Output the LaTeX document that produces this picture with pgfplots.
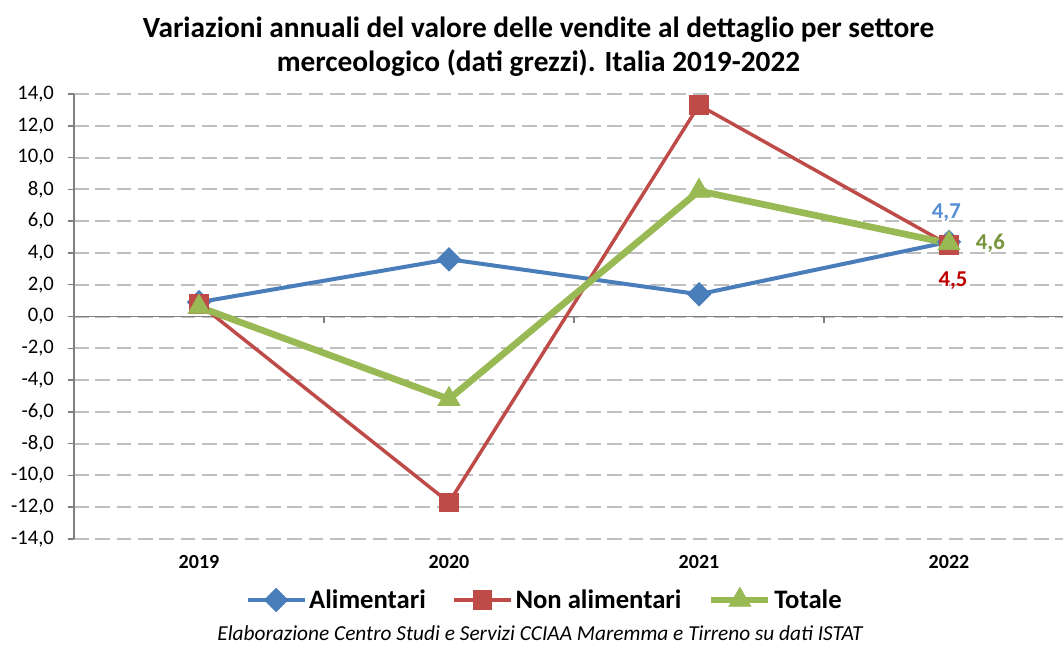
\documentclass[border=0pt]{standalone}
\usepackage{fontspec}
\setmainfont{Carlito}
\usepackage{pgfplots}
\pgfplotsset{compat=1.18}

\definecolor{alim}{HTML}{4A7EBB}
\definecolor{nonalim}{HTML}{BE4B48}
\definecolor{tot}{HTML}{98B954}
\definecolor{axisgray}{HTML}{808080}
\definecolor{gridgray}{HTML}{BFBFBF}
\definecolor{lblblue}{HTML}{558ED5}
\definecolor{lblred}{HTML}{C00000}
\definecolor{lblgreen}{HTML}{77933C}

\begin{document}
\begin{tikzpicture}
% page = 1063 x 646 px at 0.75pt/px; the plot area runs past the right edge
\useasboundingbox (-55.5pt,-80.25pt) rectangle (741.75pt,404.25pt);
\begin{axis}[
    at={(0pt,0pt)}, anchor=south west,
    scale only axis,
    width=750pt, height=333.75pt,
    xmin=-0.5, xmax=3.5,
    ymin=-14, ymax=14,
    xtick={0,1,2,3},
    xticklabels={2019,2020,2021,2022},
    ytick={-14,-12,...,14},
    axis y line*=left,
    axis x line*=bottom,
    x axis line style={draw=none},
    y axis line style={axisgray, line width=1.1pt},
    xtick style={draw=none},
    ytick style={axisgray, line width=1.1pt},
    tick align=outside,
    major tick length=4.5pt,
    ymajorgrids=true,
    grid style={gridgray, line width=1.5pt, dash pattern=on 11pt off 5pt},
    yticklabel style={font=\fontsize{15.5}{18}\selectfont, xshift=-7pt,
        /pgf/number format/.cd, fixed, fixed zerofill, precision=1,
        use comma, assume math mode=true},
    xticklabel style={font=\fontsize{15}{18}\selectfont\bfseries, yshift=-4pt},
    legend style={at={(0.471,-0.137)}, anchor=center, draw=none,
        font=\fontsize{20}{24}\selectfont\bfseries,
        /tikz/every even column/.append style={column sep=18pt}},
    legend columns=3,
    legend image code/.code={
        \draw[mark repeat=2, mark phase=2, #1]
            plot coordinates {(0cm,0cm) (0.75cm,0cm) (1.5cm,0cm)};},
    clip=false,
]
% zero line and its ticks
\draw[axisgray, line width=1.1pt] (axis cs:-0.5,0) -- (axis cs:3.5,0);
\draw[axisgray, line width=1.1pt] (axis cs:0.5,0) -- ++(0pt,-4.5pt);
\draw[axisgray, line width=1.1pt] (axis cs:1.5,0) -- ++(0pt,-4.5pt);
\draw[axisgray, line width=1.1pt] (axis cs:2.5,0) -- ++(0pt,-4.5pt);

\addplot[alim, line width=3pt, mark=square*,
    mark options={rotate=45, mark size=5pt, fill=alim, solid}]
    coordinates {(0,0.9) (1,3.6) (2,1.4) (3,4.7)};
\addlegendentry{Alimentari}

\addplot[nonalim, line width=2.6pt, mark=square*,
    mark options={mark size=6pt, fill=nonalim, solid}]
    coordinates {(0,0.8) (1,-11.7) (2,13.3) (3,4.5)};
\addlegendentry{Non alimentari}

\addplot[tot, line width=5pt, mark=triangle*,
    mark options={mark size=9.5pt, fill=tot, line width=0.5pt, solid}]
    coordinates {(0,0.6) (1,-5.2) (2,7.9) (3,4.6)};
\addlegendentry{Totale}

% data labels of 2022
\node[lblblue, font=\fontsize{17}{20}\selectfont\bfseries]
    at (axis cs:3,4.7) [yshift=21.6pt, xshift=-2pt] {4,7};
\node[lblred, font=\fontsize{17}{20}\selectfont\bfseries]
    at (axis cs:3,4.5) [yshift=-27pt, xshift=3pt] {4,5};
\node[lblgreen, font=\fontsize{17}{20}\selectfont\bfseries]
    at (axis cs:3,4.6) [xshift=31pt] {4,6};

% title and source
\node[font=\fontsize{22}{25.5}\selectfont\bfseries, align=center]
    at (rel axis cs:0.4645,1.1056)
    {Variazioni annuali del valore delle vendite al dettaglio per settore\\
     merceologico (dati grezzi). Italia 2019-2022};
\node[font=\fontsize{16}{18}\selectfont\itshape, inner sep=1pt]
    at (rel axis cs:0.466,-0.212)
    {Elaborazione Centro Studi e Servizi CCIAA Maremma e Tirreno su dati ISTAT};
\end{axis}
\end{tikzpicture}
\end{document}
